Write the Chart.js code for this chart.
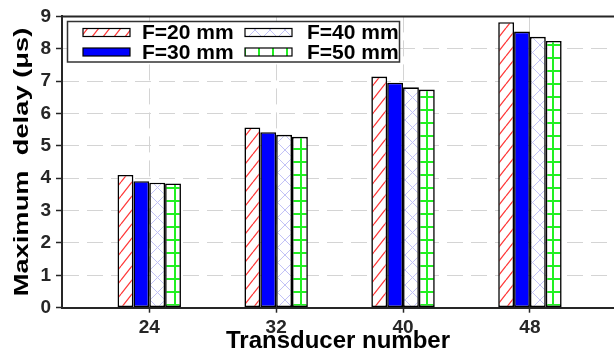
<!DOCTYPE html>
<html>
<head>
<meta charset="utf-8">
<script src="https://cdn.jsdelivr.net/npm/chart.js@4/dist/chart.umd.min.js"></script>
<style>
  html, body { margin: 0; padding: 0; background: #fff; overflow: hidden; }
  #wrap { width: 614px; height: 356px; }
</style>
</head>
<body>
<div id="wrap"><canvas id="chart" width="614" height="356"></canvas></div>
<script>
var transducers = [24, 32, 40, 48]
var seriesNames = ['F=20 mm', 'F=30 mm', 'F=40 mm', 'F=50 mm']
var f20 = [4.10, 5.57, 7.14, 8.82]
var f30 = [3.91, 5.42, 6.95, 8.53]
var f40 = [3.86, 5.34, 6.81, 8.37]
var f50 = [3.84, 5.28, 6.74, 8.24]
var yTicks = [0, 1, 2, 3, 4, 5, 6, 7, 8, 9]
var yTitle = 'Maximum  delay (μs)'

var FONT = '"Liberation Sans", Arial, sans-serif'
var AXIS = '#262626'

function makeTile(w, h, draw){
  var c = document.createElement('canvas')
  c.width = w; c.height = h
  var g = c.getContext('2d')
  g.fillStyle = '#fff'
  g.fillRect(0, 0, w, h)
  draw(g, w, h)
  return document.getElementById('chart').getContext('2d').createPattern(c, 'repeat')
}

// red "/" hatch, a bit steeper than 45 degrees
var redHatch = makeTile(11, 14, function(g, w, h){
  g.strokeStyle = '#ff3a3a'; g.lineWidth = 1.3
  g.beginPath()
  for (var k = -1; k <= 1; k++) {
    g.moveTo(k * w, h); g.lineTo(k * w + w, 0)
  }
  g.stroke()
})
// lavender cross hatch
var crossHatch = makeTile(15, 15, function(g, w, h){
  g.strokeStyle = '#c2c2f6'; g.lineWidth = 1
  g.beginPath()
  g.moveTo(0, 0); g.lineTo(w, h)
  g.moveTo(w, 0); g.lineTo(0, h)
  g.stroke()
})
// green grid
var greenGrid = makeTile(14, 13.5 | 0, function(g, w, h){
  g.strokeStyle = '#22f022'; g.lineWidth = 2
  g.beginPath()
  g.moveTo(0, 6); g.lineTo(w, 6)
  g.moveTo(7, 0); g.lineTo(7, h)
  g.stroke()
})

var fills = [redHatch, '#0000ff', crossHatch, greenGrid]
var cols = [f20, f30, f40, f50]

var datasets = cols.map(function(col, k){
  return {
    label: seriesNames[k],
    data: transducers.map(function(t, i){ return {x: t, y: col[i]} }),
    backgroundColor: fills[k],
    borderColor: '#000',
    borderWidth: 1.6,
    borderSkipped: false,
    categoryPercentage: 0.5,
    barPercentage: 1.0
  }
})

var frame = {
  id: 'frame',
  afterDatasetsDraw: function(chart){
    var ctx = chart.ctx, a = chart.chartArea
    ctx.save()
    ctx.strokeStyle = AXIS; ctx.lineWidth = 2
    ctx.beginPath()
    ctx.moveTo(a.left, a.top); ctx.lineTo(a.right + 2, a.top)
    ctx.stroke()

    // legend box
    var bx = a.left + 5.5, by = 21.5, bw = 332, bh = 40.5
    ctx.fillStyle = '#fff'
    ctx.fillRect(bx, by, bw, bh)
    ctx.strokeStyle = '#333'; ctx.lineWidth = 1.5
    ctx.strokeRect(bx, by, bw, bh)
    var px = [bx + 15.5, bx + 177.5], tx = [bx + 74.5, bx + 239.5], ry = [by + 11, by + 30.5]
    ctx.font = 'bold 21px ' + FONT
    ctx.textBaseline = 'middle'; ctx.textAlign = 'left'
    seriesNames.forEach(function(name, k){
      var c = Math.floor(k / 2), r = k % 2
      ctx.fillStyle = fills[k]
      ctx.fillRect(px[c], ry[r] - 4, 47, 8)
      ctx.strokeStyle = '#000'; ctx.lineWidth = 1.2
      ctx.strokeRect(px[c], ry[r] - 4, 47, 8)
      ctx.fillStyle = '#000'
      ctx.fillText(name, tx[c], ry[r] + 1)
    })

    // y axis title (slightly stretched along its length like the original)
    ctx.translate(22, (a.top + a.bottom) / 2)
    ctx.rotate(-Math.PI / 2)
    ctx.scale(1.3, 1)
    ctx.font = 'bold 21px ' + FONT
    ctx.textAlign = 'center'; ctx.textBaseline = 'middle'
    ctx.fillStyle = '#000'
    ctx.fillText(yTitle, 0, 0)
    ctx.restore()
  }
}

new Chart(document.getElementById('chart'), {
  type: 'bar',
  data: { datasets: datasets },
  plugins: [frame],
  options: {
    responsive: false,
    animation: false,
    layout: { padding: { top: 14, right: 0, left: 0, bottom: 0 } },
    plugins: { legend: { display: false }, tooltip: { enabled: false } },
    scales: {
      x: {
        type: 'linear',
        offset: false,
        min: 18.5,
        max: 53.3,
        afterBuildTicks: function(s){ s.ticks = transducers.map(function(v){ return {value: v} }) },
        afterFit: function(s){ s.height = 48.3 },
        grid: { offset: false, color: '#d4d4d4', tickColor: AXIS, tickLength: 5, tickWidth: 1.5, tickBorderDash: [] },
        border: { color: AXIS, width: 2, dash: [16, 8] },
        ticks: { color: AXIS, font: { family: FONT, size: 19, weight: 'bold' }, padding: 4, maxRotation: 0 },
        title: { display: true, text: 'Transducer number', color: '#000', font: { family: FONT, size: 24, weight: 'bold' }, padding: { top: 0, bottom: 0 } }
      },
      y: {
        min: 0,
        max: 9,
        afterBuildTicks: function(s){ s.ticks = yTicks.map(function(v){ return {value: v} }) },
        afterFit: function(s){ s.width = 62 },
        grid: { color: '#d4d4d4', tickColor: AXIS, tickLength: 6, tickWidth: 1.5, tickBorderDash: [] },
        border: { color: AXIS, width: 2, dash: [16, 8] },
        ticks: { color: AXIS, font: { family: FONT, size: 19, weight: 'bold' }, padding: 5 },
        title: { display: false }
      }
    }
  }
})
</script>
</body>
</html>
